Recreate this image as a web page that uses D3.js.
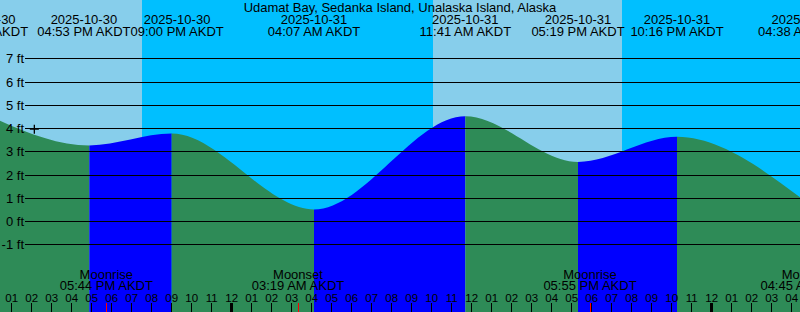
<!DOCTYPE html>
<html><head><meta charset="utf-8">
<script src="https://cdn.jsdelivr.net/npm/d3@7"></script>
<style>
html,body{margin:0;padding:0;background:#fff;}
svg{display:block;}
text{font-family:"Liberation Sans",Arial,sans-serif;fill:#000;}
</style></head>
<body>
<svg id="chart" width="800" height="312"></svg>
<script>
// ---- data ----
const title = "Udamat Bay, Sedanka Island, Unalaska Island, Alaska";
const tideTimes = ["2025-10-30 11:32","2025-10-30 16:53","2025-10-30 21:00","2025-10-31 04:07","2025-10-31 11:41","2025-10-31 17:19","2025-10-31 22:16","2025-11-01 04:38"];
const tideHeights = [4.68, 3.27, 3.78, 0.52, 4.53, 2.56, 3.64, 0.90];
const sunsetTimes = ["2025-10-30 19:31","2025-10-31 19:31"];
const sunriseTimes = ["2025-10-31 10:05"];
const moonTimes = ["2025-10-30 17:44","2025-10-31 03:19","2025-10-31 17:55","2025-11-01 04:45"];
const moonKinds = ["Moonrise","Moonset","Moonrise","Moonset"];
const yTicks = [-1,0,1,2,3,4,5,6,7];
const nowTime = "2025-10-30 14:08";
const nowHeight = 3.97;
const hourStart = "2025-10-30 13:00", hourEnd = "2025-11-01 04:00";

// ---- setup ----
const W = 800, H = 312;
const parse = d3.utcParse("%Y-%m-%d %H:%M");
const svg = d3.select("#chart");
const x = d3.scaleUtc().domain([parse(hourStart), parse(hourEnd)]).range([11.67, 791.67]);
const y = d3.scaleLinear().domain([0, 7]).range([221.5, 58.75]);
const fmtDate = d3.utcFormat("%Y-%m-%d");
const fmtTime = d3.utcFormat("%I:%M %p AKDT");
const fmtHour = d3.utcFormat("%I");
const FS = "13px";

const tides = tideTimes.map((t,i)=>({time: parse(t), h: tideHeights[i]}));
const COLORS = {day:"#87ceeb", night:"#00bfff", ebb:"#2e8b57", flood:"#0000ff"};

// background: night everywhere, day bands
svg.append("rect").attr("x",0).attr("y",0).attr("width",W).attr("height",H).attr("fill",COLORS.night);
const dayBands = [[x.invert(0), parse(sunsetTimes[0])], [parse(sunriseTimes[0]), parse(sunsetTimes[1])]];
svg.selectAll("rect.day").data(dayBands).join("rect").attr("class","day")
  .attr("x", d=>Math.max(0, Math.round(x(d[0])))).attr("y",0)
  .attr("width", d=>Math.round(x(d[1])) - Math.max(0, Math.round(x(d[0])))).attr("height",H)
  .attr("fill",COLORS.day);

// tide area as clip
const area = d3.area().x(d=>x(d.time)).y0(H).y1(d=>y(d.h)).curve(d3.curveMonotoneX);
svg.append("clipPath").attr("id","tideClip").append("path").attr("d", area(tides));
const segs = d3.pairs(tides);
svg.append("g").attr("clip-path","url(#tideClip)")
  .selectAll("rect").data(segs).join("rect")
  .attr("x", d=>x(d[0].time)).attr("y",0)
  .attr("width", d=>x(d[1].time)-x(d[0].time)).attr("height",H)
  .attr("fill", d=> d[1].h > d[0].h ? COLORS.flood : COLORS.ebb);

// gridlines + y labels
svg.append("g").selectAll("line").data(yTicks).join("line")
  .attr("x1",25).attr("x2",W)
  .attr("y1",d=>Math.floor(y(d))+0.5).attr("y2",d=>Math.floor(y(d))+0.5)
  .attr("stroke","#000").attr("stroke-width",1);
svg.append("g").selectAll("text").data(yTicks).join("text")
  .attr("x",24).attr("y",d=>Math.floor(y(d))+5)
  .attr("text-anchor","end").attr("font-size",FS)
  .text(d=>d+" ft");

// now marker
const nx = x(parse(nowTime)), ny = y(nowHeight);
svg.append("path").attr("d",`M${nx-4.5},${ny}H${nx+4.5}M${nx},${ny-4.5}V${ny+4.5}`)
  .attr("stroke","#000").attr("stroke-width",1.3).attr("fill","none");

// title
svg.append("text").attr("x",W/2).attr("y",12).attr("text-anchor","middle").attr("font-size",FS).text(title);

// tide event labels with overlap nudging
const tg = svg.append("g");
const timeTexts = tg.selectAll("text.tt").data(tides).join("text").attr("class","tt")
  .attr("y",36).attr("text-anchor","middle").attr("font-size",FS).text(d=>fmtTime(d.time));
const widths = timeTexts.nodes().map(n=>n.getComputedTextLength());
const centers = tides.map(d=>x(d.time));
for (let i=0;i<centers.length-1;i++){
  const need = (widths[i]+widths[i+1])/2, gap = centers[i+1]-centers[i];
  if (gap < need){ const s=(need-gap)/2; centers[i]-=s; centers[i+1]+=s; }
}
timeTexts.attr("x",(d,i)=>centers[i]);
tg.selectAll("text.td").data(tides).join("text").attr("class","td")
  .attr("x",(d,i)=>centers[i]).attr("y",24).attr("text-anchor","middle").attr("font-size",FS)
  .text(d=>fmtDate(d.time));

// moon labels
const moons = moonTimes.map((t,i)=>({time: parse(t), kind: moonKinds[i]}));
const mg = svg.append("g");
mg.selectAll("text.mk").data(moons).join("text").attr("class","mk")
  .attr("x",d=>x(d.time)).attr("y",278.5).attr("text-anchor","middle").attr("font-size",FS).text(d=>d.kind);
mg.selectAll("text.mt").data(moons).join("text").attr("class","mt")
  .attr("x",d=>x(d.time)).attr("y",289.5).attr("text-anchor","middle").attr("font-size",FS).text(d=>fmtTime(d.time));

// hour ticks and labels
const hours = d3.utcHour.range(parse(hourStart), d3.utcHour.offset(parse(hourEnd),1));
const hg = svg.append("g");
hg.selectAll("text").data(hours).join("text")
  .attr("x",d=>x(d)).attr("y",301.7).attr("text-anchor","middle").attr("font-size","11.5px")
  .text(d=>fmtHour(d));
hg.selectAll("rect").data(hours).join("rect")
  .attr("x",d=> d.getUTCHours()===0 ? Math.floor(x(d))-1 : Math.floor(x(d)))
  .attr("y",303).attr("height",H-303)
  .attr("width",d=> d.getUTCHours()===0 ? 3 : 1)
  .attr("fill","#000");
svg.append("g").selectAll("rect").data(moons).join("rect")
  .attr("x",d=>Math.floor(x(d.time))).attr("y",303).attr("width",1).attr("height",H-303)
  .attr("fill","#ff0000");
</script>
</body></html>
